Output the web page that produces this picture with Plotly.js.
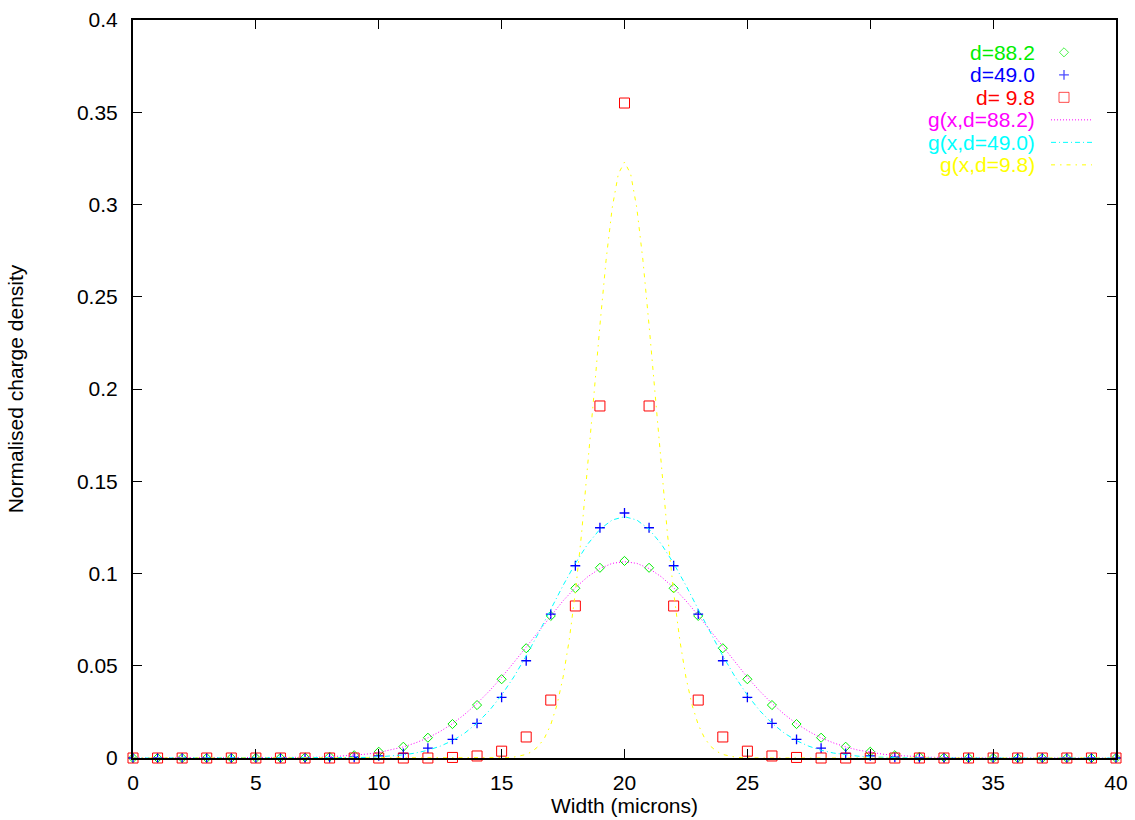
<!DOCTYPE html>
<html>
<head>
<meta charset="utf-8">
<script src="https://cdn.plot.ly/plotly-3.0.1.min.js"></script>
<style>
  html, body { margin: 0; padding: 0; background: #ffffff; }
  #chart { width: 1135px; height: 820px; }
</style>
</head>
<body>
<div id="chart"></div>
<script>
// Pixel positions across the strip (microns)
const widthX = [0,1,2,3,4,5,6,7,8,9,10,11,12,13,14,15,16,17,18,19,20,
                21,22,23,24,25,26,27,28,29,30,31,32,33,34,35,36,37,38,39,40];

// Measured normalised charge per strip, depletion d = 88.2
const chargeD882 = [0,0,0,0,0,0,0.0001,0.0003,0.0007,0.0015,0.0034,0.0061,0.0110,0.0184,0.0287,0.0427,0.0595,0.0770,0.0920,0.1031,0.1068,
                    0.1031,0.0920,0.0770,0.0595,0.0427,0.0287,0.0184,0.0110,0.0061,0.0034,0.0015,0.0007,0.0003,0.0001,0,0,0,0,0,0];
// d = 49.0
const chargeD490 = [0,0,0,0,0,0,0,0,0.0001,0.0004,0.0012,0.0025,0.0053,0.0101,0.0188,0.0329,0.0527,0.0780,0.1042,0.1248,0.1328,
                    0.1248,0.1042,0.0780,0.0527,0.0329,0.0188,0.0101,0.0053,0.0025,0.0012,0.0004,0.0001,0,0,0,0,0,0,0,0];
// d = 9.8
const chargeD98 = [0,0,0,0,0,0,0,0,0,0,0,0,0,0.0003,0.0011,0.0037,0.0114,0.0314,0.0824,0.1908,0.3550,
                   0.1908,0.0824,0.0314,0.0114,0.0037,0.0011,0.0003,0,0,0,0,0,0,0,0,0,0,0,0,0];

// Fitted profile g(x, d=88.2)
const fitX882 = [0,5,5.5,6,6.5,7,7.5,8,8.5,9,9.5,10,10.5,11,11.5,12,12.5,13,13.5,14,14.5,15,15.5,16,16.5,17,17.5,18,18.5,19,19.5,20,
                 20.5,21,21.5,22,22.5,23,23.5,24,24.5,25,25.5,26,26.5,27,27.5,28,28.5,29,29.5,30,30.5,31,31.5,32,32.5,33,33.5,34,34.5,35,40];
const fitY882 = [0,0,0.0001,0.0001,0.0002,0.0003,0.0004,0.0006,0.0010,0.0014,0.0021,0.0030,0.0043,0.0060,0.0082,0.0109,0.0144,0.0186,0.0237,0.0296,0.0363,0.0437,0.0518,0.0602,0.0688,0.0773,0.0852,0.0923,0.0982,0.1027,0.1055,0.1064,
                 0.1055,0.1027,0.0982,0.0923,0.0852,0.0773,0.0688,0.0602,0.0518,0.0437,0.0363,0.0296,0.0237,0.0186,0.0144,0.0109,0.0082,0.0060,0.0043,0.0030,0.0021,0.0014,0.0010,0.0006,0.0004,0.0003,0.0002,0.0001,0.0001,0,0];

// Fitted profile g(x, d=49.0)
const fitX490 = [0,7,7.5,8,8.5,9,9.5,10,10.5,11,11.5,12,12.5,13,13.5,14,14.5,15,15.5,16,16.5,17,17.5,18,18.5,19,19.5,20,
                 20.5,21,21.5,22,22.5,23,23.5,24,24.5,25,25.5,26,26.5,27,27.5,28,28.5,29,29.5,30,30.5,31,31.5,32,32.5,33,40];
const fitY490 = [0,0,0,0,0.0001,0.0002,0.0003,0.0006,0.0010,0.0017,0.0027,0.0042,0.0064,0.0094,0.0135,0.0189,0.0257,0.0341,0.0440,0.0553,0.0677,0.0806,0.0935,0.1055,0.1159,0.1240,0.1290,0.1308,
                 0.1290,0.1240,0.1159,0.1055,0.0935,0.0806,0.0677,0.0553,0.0440,0.0341,0.0257,0.0189,0.0135,0.0094,0.0064,0.0042,0.0027,0.0017,0.0010,0.0006,0.0003,0.0002,0.0001,0,0,0,0];

// Fitted profile g(x, d=9.8)
const fitX98 = [0,14.5,15,15.25,15.5,15.75,16,16.25,16.5,16.75,17,17.25,17.5,17.75,18,18.25,18.5,18.75,19,19.25,19.5,19.75,20,
                20.25,20.5,20.75,21,21.25,21.5,21.75,22,22.25,22.5,22.75,23,23.25,23.5,23.75,24,24.25,24.5,24.75,25,25.5,40];
const fitY98 = [0,0,0.0001,0.0002,0.0005,0.0010,0.0019,0.0036,0.0064,0.0110,0.0181,0.0287,0.0437,0.0639,0.0898,0.1212,0.1572,0.1959,0.2345,0.2698,0.2982,0.3166,0.3230,
                0.3166,0.2982,0.2698,0.2345,0.1959,0.1572,0.1212,0.0898,0.0639,0.0437,0.0287,0.0181,0.0110,0.0064,0.0036,0.0019,0.0010,0.0005,0.0002,0.0001,0,0];

// Axis ticks
const xTicks = [0,5,10,15,20,25,30,35,40];
const xTickText = ['0','5','10','15','20','25','30','35','40'];
const yTicks = [0,0.05,0.1,0.15,0.2,0.25,0.3,0.35,0.4];
const yTickText = ['0','0.05','0.1','0.15','0.2','0.25','0.3','0.35','0.4'];

const FONT = 'Liberation Sans, Arial, Helvetica, sans-serif';
const FONT_SIZE = 21;

// Series definitions: points first, fitted curves drawn on top
const series = [
  {name: 'd=88.2', kind: 'pts', x: widthX, y: chargeD882, color: '#00ee00', symbol: 'diamond-open', size: 7, lw: 1},
  {name: 'd=49.0', kind: 'pts', x: widthX, y: chargeD490, color: '#0000ff', symbol: 'cross-thin-open', size: 7, lw: 1.3},
  {name: 'd= 9.8', kind: 'pts', x: widthX, y: chargeD98,  color: '#ff0000', symbol: 'square-open', size: 10, lw: 1},
  {name: 'g(x,d=88.2)', kind: 'line', x: fitX882, y: fitY882, color: '#ff00ff', dash: '1px,2px'},
  {name: 'g(x,d=49.0)', kind: 'line', x: fitX490, y: fitY490, color: '#00ffff', dash: '5px,3px,1px,3px'},
  {name: 'g(x,d=9.8)',  kind: 'line', x: fitX98,  y: fitY98,  color: '#ffff00', dash: '4px,5px,1.5px,5px'}
];

const traces = series.map(s => s.kind === 'pts' ? {
  type: 'scatter', mode: 'markers', x: s.x, y: s.y, name: s.name, showlegend: false,
  cliponaxis: false, hoverinfo: 'x+y',
  marker: {symbol: s.symbol, size: s.size, color: s.color, line: {color: s.color, width: s.lw}}
} : {
  type: 'scatter', mode: 'lines', x: s.x, y: s.y, name: s.name, showlegend: false,
  cliponaxis: false, hoverinfo: 'x+y',
  line: {color: s.color, width: 1, dash: s.dash}
});

// Key in the top-right corner: right-aligned text, sample to the right
const keyTextX = 0.9196, keySampleX = 0.9471, keyLineX0 = 0.9339, keyLineX1 = 0.9756;
const keyTop = 0.9562, keyStep = 0.0305;
const annotations = [];
const shapes = [];
const keyMarkers = {type: 'scatter', mode: 'markers', xaxis: 'x2', yaxis: 'y2', x: [], y: [],
  showlegend: false, hoverinfo: 'skip', cliponaxis: false,
  marker: {symbol: [], size: [], color: [], line: {color: [], width: []}}};

series.forEach((s, i) => {
  const ky = keyTop - i * keyStep;
  annotations.push({xref: 'paper', yref: 'paper', x: keyTextX, y: ky, xanchor: 'right', yanchor: 'middle',
    text: s.name, showarrow: false, font: {family: FONT, size: FONT_SIZE, color: s.color}});
  if (s.kind === 'pts') {
    keyMarkers.x.push(keySampleX); keyMarkers.y.push(ky);
    keyMarkers.marker.symbol.push(s.symbol); keyMarkers.marker.size.push(s.size);
    keyMarkers.marker.color.push(s.color);
    keyMarkers.marker.line.color.push(s.color); keyMarkers.marker.line.width.push(s.lw);
  } else {
    shapes.push({type: 'line', xref: 'paper', yref: 'paper', x0: keyLineX0, x1: keyLineX1, y0: ky, y1: ky,
      line: {color: s.color, width: 1, dash: s.dash}});
  }
});
traces.push(keyMarkers);

const axisCommon = {
  showgrid: false, zeroline: false, showline: true, linecolor: '#000', linewidth: 2, mirror: 'ticks',
  ticks: 'inside', ticklen: 9, tickwidth: 1, tickcolor: '#000',
  tickfont: {family: FONT, size: FONT_SIZE, color: '#000'}, tickmode: 'array'
};

const layout = {
  width: 1135, height: 820,
  margin: {l: 133, r: 19, t: 20, b: 62, pad: 0},
  paper_bgcolor: '#fff', plot_bgcolor: '#fff',
  font: {family: FONT, color: '#000'},
  showlegend: false,
  xaxis: Object.assign({}, axisCommon, {
    range: [0, 40], tickvals: xTicks, ticktext: xTickText, ticklabelstandoff: 5,
    title: {text: 'Width (microns)', font: {family: FONT, size: FONT_SIZE, color: '#000'}, standoff: 0}
  }),
  yaxis: Object.assign({}, axisCommon, {
    range: [0, 0.4], tickvals: yTicks, ticktext: yTickText, ticklabelstandoff: 9,
    title: {text: 'Normalised charge density', font: {family: FONT, size: FONT_SIZE, color: '#000'}, standoff: 48}
  }),
  xaxis2: {overlaying: 'x', range: [0, 1], visible: false, fixedrange: true},
  yaxis2: {overlaying: 'y', range: [0, 1], visible: false, fixedrange: true},
  annotations: annotations,
  shapes: shapes
};

Plotly.newPlot('chart', traces, layout, {displayModeBar: false, staticPlot: true});
</script>
</body>
</html>
